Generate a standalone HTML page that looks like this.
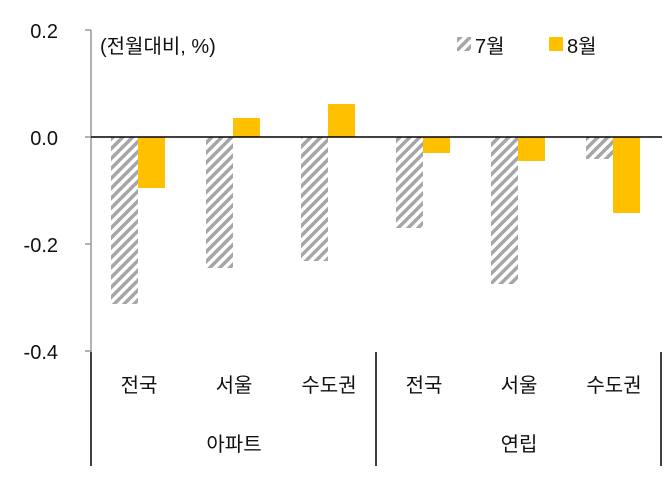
<!DOCTYPE html>
<html><head><meta charset="utf-8"><style>
html,body{margin:0;padding:0;background:#fff;}
svg{display:block;}
text{font-family:"Liberation Sans","Noto Sans CJK KR",sans-serif;fill:#111;}
</style></head><body>
<svg width="667" height="477" viewBox="0 0 667 477" xmlns="http://www.w3.org/2000/svg">
<defs>
<pattern id="h" patternUnits="userSpaceOnUse" width="7" height="7" patternTransform="rotate(45)">
<rect width="7" height="7" fill="#fff"/>
<rect width="3.5" height="7" fill="#a6a6a6"/>
</pattern>
</defs>
<line x1="91" y1="30" x2="91" y2="352" stroke="#999" stroke-width="1.5"/>
<line x1="85" y1="30" x2="91" y2="30" stroke="#999" stroke-width="1.5"/>
<line x1="85" y1="137" x2="91" y2="137" stroke="#999" stroke-width="1.5"/>
<line x1="85" y1="244" x2="91" y2="244" stroke="#999" stroke-width="1.5"/>
<line x1="85" y1="351" x2="91" y2="351" stroke="#999" stroke-width="1.5"/>
<g font-size="20" text-anchor="end">
<text x="58" y="38">0.2</text>
<text x="58" y="145">0.0</text>
<text x="58" y="252">-0.2</text>
<text x="58" y="359">-0.4</text>
</g>
<g fill="url(#h)">
<rect x="111" y="137" width="27" height="167"/>
<rect x="206" y="137" width="27" height="131"/>
<rect x="301" y="137" width="27" height="124"/>
<rect x="396" y="137" width="27" height="91"/>
<rect x="491" y="137" width="27" height="147"/>
<rect x="586" y="137" width="27" height="22"/>
</g>
<g fill="#ffc000">
<rect x="138" y="137" width="27" height="51"/>
<rect x="233" y="118" width="27" height="19"/>
<rect x="328" y="104" width="27" height="33"/>
<rect x="423" y="137" width="27" height="16"/>
<rect x="518" y="137" width="27" height="24"/>
<rect x="613" y="137" width="27" height="76"/>
</g>
<line x1="91" y1="137" x2="662" y2="137" stroke="#000" stroke-width="1.5"/>
<g stroke="#000" stroke-width="1.5">
<line x1="91" y1="352" x2="91" y2="466"/>
<line x1="376" y1="352" x2="376" y2="466"/>
<line x1="661" y1="352" x2="661" y2="466"/>
</g>
<g font-size="20" text-anchor="middle">
<text x="139" y="392">전국</text>
<text x="234" y="392">서울</text>
<text x="329" y="392">수도권</text>
<text x="424" y="392">전국</text>
<text x="519" y="392">서울</text>
<text x="614" y="392">수도권</text>
<text x="234" y="451">아파트</text>
<text x="519" y="451">연립</text>
</g>
<text x="100" y="53" font-size="20">(전월대비, %)</text>
<rect x="457" y="37" width="14" height="14" fill="url(#h)"/>
<text x="475" y="53" font-size="20">7월</text>
<rect x="549" y="37" width="14" height="14" fill="#ffc000"/>
<text x="567" y="53" font-size="20">8월</text>
</svg>
</body></html>
